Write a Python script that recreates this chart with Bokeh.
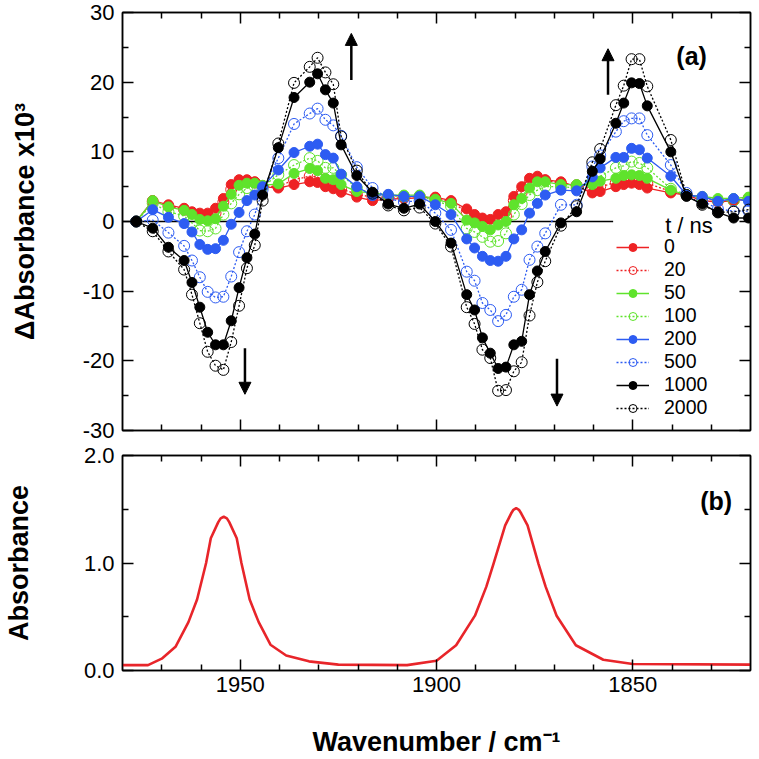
from bokeh.plotting import figure
from bokeh.layouts import column
from bokeh.models import (Range1d, LinearAxis, FixedTicker, Legend, LegendItem,
                          Label, Arrow, NormalHead, ColumnDataSource)
from bokeh.embed import file_html
from bokeh.resources import INLINE

# ---------------- data ----------------
WAVENUMBER = [1976.5, 1972.3, 1968.3, 1964.3, 1962.3, 1960.3, 1958.3, 1956.3, 1954.3,
              1952.3, 1950.3, 1948.3, 1946.3, 1944.3, 1940.3, 1936.3, 1932.3, 1930.3,
              1928.3, 1926.3, 1924.3, 1920.3, 1916.3, 1912.3, 1908.3, 1904.3, 1900.3,
              1896.3, 1892.3, 1890.3, 1888.3, 1886.3, 1884.3, 1882.3, 1880.3, 1878.3,
              1876.3, 1874.3, 1872.3, 1868.3, 1864.3, 1860.3, 1858.3, 1854.3, 1852.3,
              1850.3, 1848.3, 1846.3, 1840.3, 1836.3, 1832.3, 1828.3, 1824.3, 1820.5]

T_NS = ["0", "20", "50", "100", "200", "500", "1000", "2000"]

DA_0 = [0, 3.0, 2.4, 1.9, 1.4, 1.2, 1.2, 1.9, 3.3, 5.3, 6.0, 6.0, 5.7, 5.0, 4.8, 5.3, 5.7, 5.6,
        5.0, 4.7, 4.2, 3.5, 3.0, 3.2, 3.3, 3.4, 3.5,
        3.0, 1.8, 1.0, 0.5, 0.3, 1.0, 1.4, 3.6, 5.0, 6.2, 6.5, 6.0, 5.7, 5.0, 4.1, 4.3, 5.0,
        5.3, 5.5, 5.3, 4.8, 4.1, 3.8, 3.0, 2.8, 3.0, 3.2]
DA_20 = [0, 2.9, 2.2, 1.7, 1.2, 0.8, 0.7, 1.2, 2.8, 4.6, 5.6, 5.8, 5.6, 5.1, 5.0, 6.0, 6.5, 6.4,
         5.5, 5.3, 4.7, 3.9, 3.5, 3.5, 3.5, 3.6, 3.3,
         2.8, 1.4, 0.6, 0.0, -0.3, 0.3, 0.8, 3.0, 4.2, 5.5, 6.0, 5.9, 5.5, 5.2, 4.7, 5.0, 5.6,
         6.0, 6.1, 6.0, 5.5, 4.3, 3.8, 3.3, 3.0, 3.0, 3.3]
DA_50 = [0, 3.0, 2.1, 1.6, 1.0, 0.3, 0.1, 0.4, 2.2, 3.9, 5.2, 5.5, 5.5, 5.2, 5.4, 6.9, 7.6, 7.3,
         6.2, 6.0, 5.3, 4.3, 4.1, 3.8, 3.8, 3.8, 3.2,
         2.6, 0.2, -0.2, -0.7, -1.2, -0.5, 0.0, 2.4, 3.3, 4.8, 5.7, 5.7, 5.3, 5.3, 5.3, 5.8, 6.2,
         6.6, 6.7, 6.6, 6.2, 4.5, 3.8, 3.6, 3.3, 3.3, 3.5]
DA_100 = [0, 2.6, 1.4, 0.8, -0.2, -1.3, -1.4, -1.0, 1.0, 2.6, 3.9, 4.8, 5.0, 5.0, 6.7, 8.1, 9.1,
          8.7, 7.7, 7.7, 6.7, 4.8, 4.0, 3.7, 3.6, 3.6, 3.0,
          2.2, -1.0, -1.5, -2.2, -2.9, -2.8, -1.7, 1.0, 2.5, 3.8, 4.5, 5.0, 5.0, 4.8, 5.8, 6.5,
          7.7, 8.0, 8.6, 8.4, 7.7, 4.7, 3.8, 3.4, 3.0, 3.0, 3.2]
DA_200 = [0, 1.7, 0.6, -0.3, -1.5, -3.3, -4.0, -3.9, -2.7, -0.4, 1.3, 3.0, 3.8, 5.0, 7.4, 9.9,
          10.8, 11.1, 9.6, 9.1, 6.8, 5.0, 3.7, 3.9, 3.6, 3.6, 2.4,
          1.0, -2.5, -3.8, -5.0, -5.6, -5.7, -5.0, -2.5, -1.2, 1.2, 2.6, 3.8, 4.5, 4.4, 6.4, 7.7,
          9.2, 9.2, 10.5, 10.3, 9.1, 6.5, 3.8, 3.6, 2.9, 3.3, 2.9]
DA_500 = [0, 0.2, -1.6, -3.5, -5.6, -8.0, -10.1, -10.9, -10.8, -7.9, -4.4, -1.4, 1.0, 4.6, 9.1,
          14.0, 15.5, 16.2, 14.6, 13.8, 12.3, 7.8, 4.8, 3.3, 2.8, 3.0, 1.2,
          -1.2, -7.2, -8.5, -11.7, -12.7, -14.3, -13.4, -10.8, -9.8, -5.5, -3.6, -1.7, 2.4, 2.4,
          7.9, 9.5, 12.9, 14.4, 14.8, 14.8, 12.4, 8.1, 4.1, 3.0, 1.8, 1.5, 1.5]
DA_1000 = [0, -0.96, -3.7, -5.6, -8.75, -12.3, -15.9, -17.7, -17.7, -14.25, -9.5, -5.2, -1.8,
           3.8, 10.6, 17.8, 20.0, 21.2, 18.9, 17.0, 11.0, 6.6, 4.2, 2.5, 1.9, 2.5, 0.0,
           -3.1, -10.5, -12.7, -16.7, -18.9, -21.1, -20.9, -17.7, -17.2, -10.5, -7.1, -4.3, -0.2,
           1.4, 7.2, 9.0, 14.1, 17.0, 19.9, 19.8, 16.6, 10.0, 3.6, 2.5, 1.3, 0.5, 0.5]
DA_2000 = [0, -1.4, -4.3, -6.9, -10.5, -14.6, -18.7, -20.7, -21.3, -17.3, -12.1, -6.7, -3.4, 3.0,
           11.2, 19.9, 22.2, 23.5, 21.4, 19.7, 12.2, 7.3, 4.0, 2.3, 1.6, 2.0, -0.3,
           -3.6, -12.3, -14.7, -18.4, -19.6, -24.3, -24.2, -21.5, -20.2, -13.5, -8.7, -5.7, -0.6,
           2.2, 8.5, 10.4, 16.7, 19.5, 23.3, 23.3, 19.4, 11.7, 3.8, 2.4, 1.3, 1.4, 1.7]

SERIES = [DA_0, DA_20, DA_50, DA_100, DA_200, DA_500, DA_1000, DA_2000]

# steady-state absorbance spectrum (panel b)
ABS_X = [1980.0, 1973.5, 1970.0, 1966.5, 1963.2, 1961.0, 1958.7, 1957.5, 1955.6, 1955.0,
         1954.2, 1953.4, 1952.8, 1950.9, 1949.7, 1947.6, 1945.3, 1942.3, 1938.3, 1932.5,
         1925.0, 1907.5, 1900.0, 1895.0, 1890.2, 1887.3, 1885.5, 1882.5, 1881.0, 1880.4,
         1879.7, 1879.0, 1878.4, 1876.8, 1874.0, 1872.2, 1869.4, 1864.5, 1857.5, 1850.0,
         1820.0]
ABS_Y = [0.05, 0.05, 0.11, 0.22, 0.45, 0.66, 1.00, 1.23, 1.38, 1.415,
         1.43, 1.415, 1.38, 1.23, 1.00, 0.66, 0.45, 0.24, 0.14, 0.085,
         0.055, 0.05, 0.09, 0.235, 0.51, 0.78, 0.99, 1.35, 1.46, 1.495,
         1.51, 1.495, 1.46, 1.35, 0.99, 0.78, 0.51, 0.235, 0.10, 0.06,
         0.055]

ZERO_LINE_X = [1980, 1855]
ZERO_LINE_Y = [0, 0]

ARROW_X = [1921.7, 1856.3, 1948.8, 1869.3]
ARROW_Y0 = [20.3, 18.2, -18.2, -19.7]
ARROW_Y1 = [27.0, 24.8, -24.8, -26.5]

X_MAJOR = [1850, 1900, 1950]
X_MINOR = [1830, 1840, 1860, 1870, 1880, 1890, 1910, 1920, 1930, 1940, 1960, 1970]
YA_MAJOR = [-30, -20, -10, 0, 10, 20, 30]
YA_MINOR = [-25, -15, -5, 5, 15, 25]
YB_MAJOR = [0, 1, 2]
YB_MINOR = [0.5, 1.5]

# ---------------- styles ----------------
FONT = "Liberation Sans"
RED = "#ee2224"
GREEN = "#5fe32c"
BLUE = "#2d5cf2"
BLACK = "#000000"
COLORS = [RED, RED, GREEN, GREEN, BLUE, BLUE, BLACK, BLACK]
FILLED = [True, False, True, False, True, False, True, False]


def style_axis(ax, ticks, minor, labels=None, font_size="22px"):
    ax.ticker = FixedTicker(ticks=ticks, minor_ticks=minor)
    ax.axis_line_color = "black"
    ax.axis_line_width = 1.5
    ax.major_tick_line_color = "black"
    ax.major_tick_line_width = 1.5
    ax.minor_tick_line_color = "black"
    ax.minor_tick_line_width = 1.5
    ax.major_tick_in = 11
    ax.major_tick_out = 0
    ax.minor_tick_in = 6
    ax.minor_tick_out = 0
    if labels is None:
        ax.major_label_text_font_size = "0px"
        ax.major_label_standoff = 0
        ax.major_label_overrides = {t: "" for t in ticks}
    else:
        ax.major_label_overrides = labels
        ax.major_label_text_font = FONT
        ax.major_label_text_font_size = font_size
        ax.major_label_text_color = "black"


def set_title(ax, text, standoff):
    ax.axis_label = text
    ax.axis_label_text_font = FONT
    ax.axis_label_text_font_style = "bold"
    ax.axis_label_text_font_size = "27px"
    ax.axis_label_text_color = "black"
    ax.axis_label_standoff = standoff


def base_fig(h, top_b, bot_b, yr):
    p = figure(width=759, height=h, x_range=Range1d(1980, 1820), y_range=yr,
               output_backend="svg", toolbar_location=None,
               min_border_left=110, min_border_right=9,
               min_border_top=top_b, min_border_bottom=bot_b)
    p.xgrid.visible = False
    p.ygrid.visible = False
    p.outline_line_color = "black"
    p.outline_line_width = 1.5
    p.background_fill_color = "white"
    p.border_fill_color = "white"
    return p


# ---------------- panel (a) ----------------
top = base_fig(442, 12, 12, Range1d(-30, 30))
style_axis(top.xaxis[0], X_MAJOR, X_MINOR)
style_axis(top.yaxis[0], YA_MAJOR, YA_MINOR, {t: str(t) for t in YA_MAJOR})
top.yaxis[0].major_label_standoff = 8
set_title(top.yaxis[0], "ΔAbsorbance x10³", 40)
r_ax = LinearAxis()
style_axis(r_ax, YA_MAJOR, YA_MINOR)
top.add_layout(r_ax, "right")
a_ax = LinearAxis()
style_axis(a_ax, X_MAJOR, X_MINOR)
top.add_layout(a_ax, "above")

top.line(ZERO_LINE_X, ZERO_LINE_Y, line_color="black", line_width=1.3)

items = []
for name, vals, col, filled in zip(T_NS, SERIES, COLORS, FILLED):
    src = ColumnDataSource(dict(x=WAVENUMBER, y=vals))
    if filled:
        ln = top.line("x", "y", source=src, line_color=col, line_width=1.3)
        sc = top.scatter("x", "y", source=src, marker="circle", size=10,
                         fill_color=col, line_color=col, line_width=1)
    else:
        ln = top.line("x", "y", source=src, line_color=col, line_width=1.3,
                      line_dash="2 2")
        sc = top.scatter("x", "y", source=src, marker="circle", size=11,
                         fill_color=None, line_color=col, line_width=1)
    items.append(LegendItem(label=name, renderers=[ln, sc]))

legend = Legend(items=items, location=(494, 11), padding=0, margin=0, spacing=0,
                glyph_width=33, glyph_height=20, label_height=20, label_standoff=15,
                label_text_font=FONT, label_text_font_size="19.5px",
                label_text_color="black",
                border_line_alpha=0, background_fill_alpha=0)
top.add_layout(legend)

arrow_src = ColumnDataSource(dict(x0=ARROW_X, y0=ARROW_Y0, x1=ARROW_X, y1=ARROW_Y1))
top.add_layout(Arrow(end=NormalHead(size=12, fill_color="black", line_color="black",
                                    line_width=1),
                     x_start="x0", y_start="y0", x_end="x1", y_end="y1",
                     source=arrow_src, line_width=2.5, line_color="black"))

top.add_layout(Label(x=1835, y=23.8, text="(a)", text_font=FONT, text_font_style="bold",
                     text_font_size="25px", text_align="center", text_baseline="middle",
                     text_color="black"))
top.add_layout(Label(x=1841.75, y=-0.6, text="t / ns", text_font=FONT,
                     text_font_size="22px", text_align="left", text_baseline="middle",
                     text_color="black"))

# ---------------- panel (b) ----------------
bot = base_fig(317, 13, 83, Range1d(0, 2))
style_axis(bot.xaxis[0], X_MAJOR, X_MINOR, {t: str(t) for t in X_MAJOR})
bot.xaxis[0].major_label_standoff = 6
set_title(bot.xaxis[0], "Wavenumber / cm⁻¹", 32)
style_axis(bot.yaxis[0], YB_MAJOR, YB_MINOR, {0: "0.0", 1: "1.0", 2: "2.0"})
bot.yaxis[0].major_label_standoff = 8
set_title(bot.yaxis[0], "Absorbance", 47)
r2 = LinearAxis()
style_axis(r2, YB_MAJOR, YB_MINOR)
bot.add_layout(r2, "right")
a2 = LinearAxis()
style_axis(a2, X_MAJOR, X_MINOR)
bot.add_layout(a2, "above")

bot.line(ABS_X, ABS_Y, line_color="#e8252a", line_width=2.6)
bot.add_layout(Label(x=1828.75, y=1.575, text="(b)", text_font=FONT, text_font_style="bold",
                     text_font_size="25px", text_align="center", text_baseline="middle",
                     text_color="black"))

layout = column(top, bot)
open("out.html", "w").write(file_html(layout, INLINE, "chart"))
